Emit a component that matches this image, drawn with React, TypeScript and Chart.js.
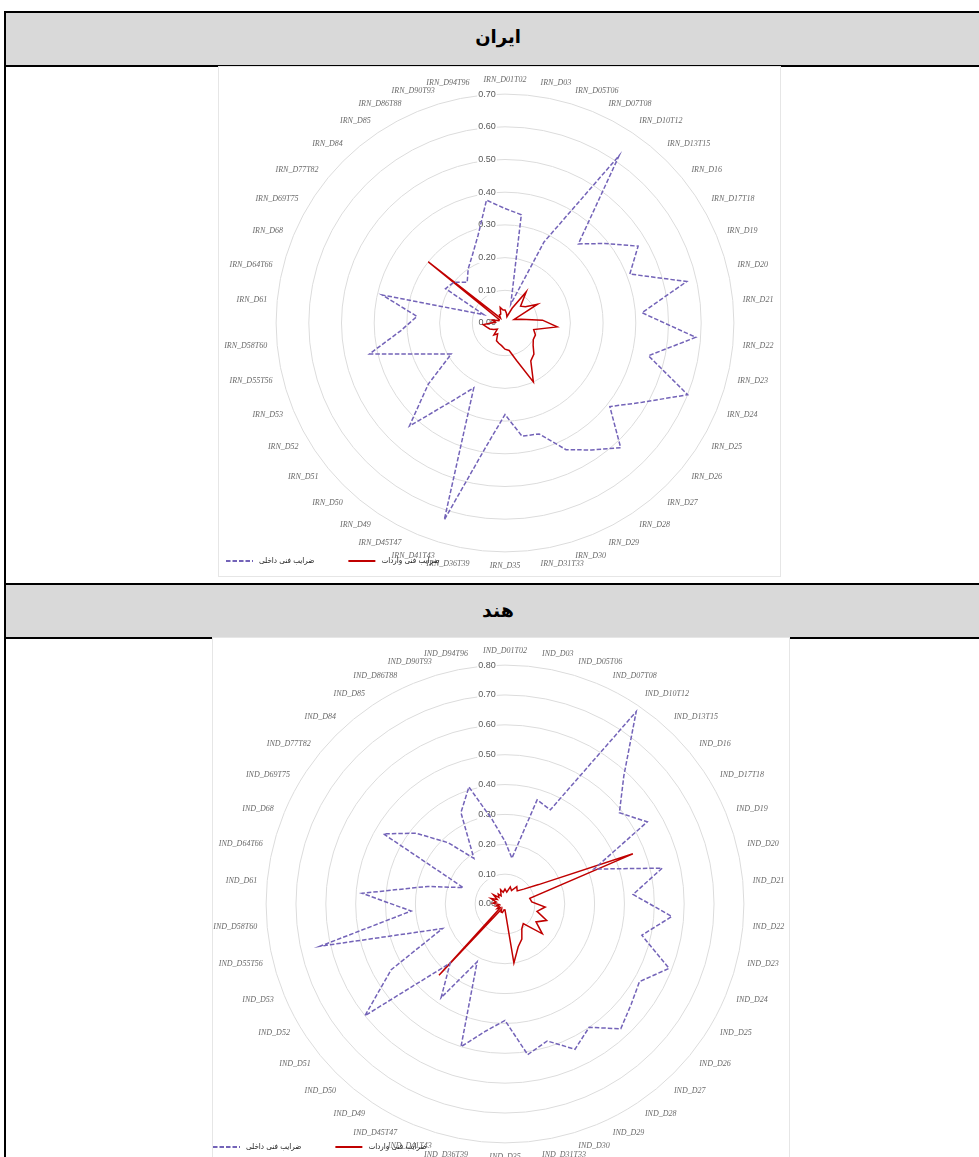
import React, { useEffect, useRef } from 'react';
import { Chart, registerables } from 'chart.js';

Chart.register(...registerables);

// ---------- data ----------
const industryCodes = [
  'D01T02', 'D03', 'D05T06', 'D07T08', 'D10T12', 'D13T15', 'D16', 'D17T18', 'D19', 'D20',
  'D21', 'D22', 'D23', 'D24', 'D25', 'D26', 'D27', 'D28', 'D29', 'D30',
  'D31T33', 'D35', 'D36T39', 'D41T43', 'D45T47', 'D49', 'D50', 'D51', 'D52', 'D53',
  'D55T56', 'D58T60', 'D61', 'D64T66', 'D68', 'D69T75', 'D77T82', 'D84', 'D85', 'D86T88',
  'D90T93', 'D94T96',
];

const seriesNames = ['ضرایب فنی داخلی', 'ضرایب فنی واردات'];

const iranTitle = 'ایران';
const iranPrefix = 'IRN';
const iranMax = 0.7;
const iranDomestic = [
  0.35, 0.335, 0.06, 0.275, 0.62, 0.33, 0.39, 0.47, 0.41, 0.57,
  0.42, 0.585, 0.45, 0.6, 0.485, 0.41, 0.52, 0.47, 0.43, 0.355,
  0.35, 0.28, 0.38, 0.63, 0.22, 0.29, 0.43, 0.3, 0.19, 0.26,
  0.425, 0.32, 0.27, 0.385, 0.07, 0.21, 0.2, 0.17, 0.2, 0.23,
  0.28, 0.38,
];
const iranImports = [
  0.04, 0.03, 0.02, 0.05, 0.115, 0.07, 0.08, 0.115, 0.03, 0.05,
  0.115, 0.16, 0.09, 0.1, 0.1, 0.11, 0.13, 0.14, 0.2, 0.12,
  0.085, 0.08, 0.07, 0.065, 0.06, 0.04, 0.05, 0.03, 0.04, 0.05,
  0.057, 0.067, 0.03, 0.04, 0.02, 0.02, 0.3, 0.02, 0.03, 0.03,
  0.05, 0.04,
];

const indiaTitle = 'هند';
const indiaPrefix = 'IND';
const indiaMax = 0.8;
const indiaDomestic = [
  0.21, 0.155, 0.365, 0.35, 0.78, 0.585, 0.49, 0.55, 0.32, 0.54,
  0.43, 0.56, 0.47, 0.59, 0.52, 0.54, 0.57, 0.5, 0.54, 0.48,
  0.51, 0.39, 0.43, 0.5, 0.215, 0.38, 0.27, 0.6, 0.44, 0.225,
  0.635, 0.315, 0.48, 0.265, 0.15, 0.47, 0.38, 0.28, 0.185, 0.34,
  0.41, 0.285,
];
const indiaImports = [
  0.05, 0.04, 0.06, 0.05, 0.07, 0.06, 0.08, 0.13, 0.46, 0.085,
  0.09, 0.135, 0.11, 0.15, 0.12, 0.16, 0.09, 0.1, 0.13, 0.15,
  0.2, 0.02, 0.02, 0.03, 0.03, 0.02, 0.325, 0.02, 0.03, 0.02,
  0.03, 0.02, 0.04, 0.03, 0.05, 0.03, 0.05, 0.03, 0.04, 0.03,
  0.05, 0.04,
];

const tickStep = 0.1;

// ---------- styles ----------
const DOMESTIC_COLOR = '#7363b8';
const IMPORT_COLOR = '#c00000';
const TICK_SHIFT = '\u2003\u2003\u2003\u2003';

const legendPlugin = {
  id: 'manualLegend',
  beforeDatasetsDraw(chart: any) {
    // zero tick label (Chart.js skips the first tick of a radial scale)
    const s = chart.scales.r;
    const ctx = chart.ctx;
    ctx.save();
    ctx.font = '9px "Liberation Sans"';
    ctx.fillStyle = '#595959';
    ctx.textAlign = 'right';
    ctx.textBaseline = 'middle';
    ctx.fillText(Number(s.ticks[0].value).toFixed(2), s.xCenter - 9, s.yCenter);
    ctx.restore();
  },
  afterDraw(chart: any, _args: any, opts: any) {
    const ctx = chart.ctx;
    ctx.save();
    let x = opts.x;
    const y = opts.y;
    chart.data.datasets.forEach((ds: any) => {
      ctx.beginPath();
      ctx.setLineDash(ds.borderDash || []);
      ctx.strokeStyle = ds.borderColor;
      ctx.lineWidth = ds.borderWidth + 0.5;
      ctx.moveTo(x, y);
      ctx.lineTo(x + opts.lineLen, y);
      ctx.stroke();
      ctx.setLineDash([]);
      x += opts.lineLen + opts.textGap;
      ctx.font = opts.font;
      ctx.fillStyle = opts.color;
      ctx.textAlign = 'left';
      ctx.textBaseline = 'middle';
      ctx.fillText(ds.label, x, y);
      x += ctx.measureText(ds.label).width + opts.itemGap;
    });
    ctx.restore();
  },
};

type RadarProps = {
  prefix: string;
  domestic: number[];
  imports: number[];
  max: number;
  left: number;
  top: number;
  width: number;
  height: number;
  padTop: number;
  legendX: number;
  legendY: number;
};

function RadarChart(p: RadarProps) {
  const ref = useRef<HTMLCanvasElement>(null);
  useEffect(() => {
    if (!ref.current) return;
    const chart = new Chart(ref.current, {
      type: 'radar',
      data: {
        labels: industryCodes.map((c) => `${p.prefix}_${c}`),
        datasets: [
          {
            label: seriesNames[0],
            data: p.domestic,
            borderColor: DOMESTIC_COLOR,
            borderWidth: 1.5,
            borderDash: [4.5, 2],
            fill: false,
            pointRadius: 0,
            pointHoverRadius: 0,
            tension: 0,
          },
          {
            label: seriesNames[1],
            data: p.imports,
            borderColor: IMPORT_COLOR,
            borderWidth: 1.5,
            fill: false,
            pointRadius: 0,
            pointHoverRadius: 0,
            tension: 0,
          },
        ],
      },
      options: {
        responsive: false,
        maintainAspectRatio: false,
        animation: false,
        events: [],
        layout: { padding: { top: p.padTop, left: 0, right: 0, bottom: 0 } },
        plugins: {
          legend: { display: false },
          tooltip: { enabled: false },
          manualLegend: {
            x: p.legendX,
            y: p.legendY,
            lineLen: 27,
            textGap: 6,
            itemGap: 34,
            font: '8px "DejaVu Sans Condensed", "DejaVu Sans"',
            color: '#222222',
          },
        } as any,
        scales: {
          r: {
            min: 0,
            max: p.max,
            ticks: {
              stepSize: tickStep,
              callback: (v: any) => Number(v).toFixed(2) + TICK_SHIFT,
              font: { family: 'Liberation Sans', size: 9 },
              color: '#595959',
              showLabelBackdrop: true,
              backdropColor: '#ffffff',
              backdropPadding: { top: 1, bottom: 1, left: 1, right: -35 },
            },
            grid: { circular: true, color: '#dcdcdc', lineWidth: 1 },
            angleLines: { display: false },
            pointLabels: {
              font: { family: 'Liberation Serif', size: 8, style: 'italic' },
              color: '#6a6a6a',
              padding: 4,
            },
          },
        },
      } as any,
      plugins: [legendPlugin],
    });
    return () => chart.destroy();
  }, []);
  return (
    <canvas
      ref={ref}
      width={p.width}
      height={p.height}
      style={{ position: 'absolute', left: p.left, top: p.top, width: p.width, height: p.height }}
    />
  );
}

const headerStyle = (top: number, size: number, lift: number): React.CSSProperties => ({
  position: 'absolute',
  left: 6,
  top,
  width: 984,
  height: 56,
  boxSizing: 'border-box',
  background: '#d9d9d9',
  borderTop: '2px solid #000',
  borderBottom: '2px solid #000',
  display: 'flex',
  alignItems: 'center',
  justifyContent: 'center',
  paddingBottom: lift,
  fontFamily: '"DejaVu Sans", sans-serif',
  fontWeight: 'bold',
  fontSize: size,
  color: '#000',
  direction: 'rtl',
});

export default function App() {
  return (
    <div
      style={{
        position: 'absolute',
        left: 0,
        top: 0,
        width: 979,
        height: 1157,
        overflow: 'hidden',
        background: '#fff',
      }}
    >
      <div style={{ position: 'absolute', left: 4, top: 11, width: 2, height: 1146, background: '#000' }} />
      <div style={headerStyle(11, 18, 6)}>{iranTitle}</div>
      <div
        style={{
          position: 'absolute',
          left: 218,
          top: 66,
          width: 563,
          height: 511,
          boxSizing: 'border-box',
          border: '1px solid #e6e6e6',
          background: '#fff',
        }}
      />
      <RadarChart
        prefix={iranPrefix}
        domestic={iranDomestic}
        imports={iranImports}
        max={iranMax}
        left={175}
        top={66}
        width={660}
        height={506}
        padTop={9}
        legendX={51}
        legendY={495}
      />
      <div style={headerStyle(583, 19, 2)}>{indiaTitle}</div>
      <div
        style={{
          position: 'absolute',
          left: 212,
          top: 637,
          width: 578,
          height: 540,
          boxSizing: 'border-box',
          border: '1px solid #e6e6e6',
          background: '#fff',
        }}
      />
      <RadarChart
        prefix={indiaPrefix}
        domestic={indiaDomestic}
        imports={indiaImports}
        max={indiaMax}
        left={175}
        top={640}
        width={660}
        height={523}
        padTop={7}
        legendX={38}
        legendY={507}
      />
    </div>
  );
}
